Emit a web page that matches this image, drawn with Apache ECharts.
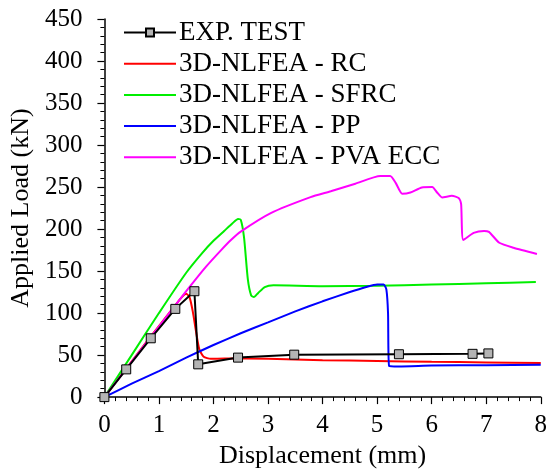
<!DOCTYPE html>
<html>
<head>
<meta charset="utf-8">
<script src="https://cdn.jsdelivr.net/npm/echarts@6/dist/echarts.min.js"></script>
<style>
  html, body { margin: 0; padding: 0; background: #fff; }
  #chart { width: 550px; height: 474px; }
</style>
</head>
<body>
<div id="chart"></div>
<script>
// displacement (mm), load (kN) pairs
const expTest = [[0, 0], [0.40, 33], [0.85, 70], [1.30, 105], [1.65, 126], [1.72, 39], [2.45, 47], [3.48, 50.5], [5.40, 51], [6.75, 51.5], [7.04, 52]];
const rc = [[0, 0], [0.4, 34], [0.8, 68], [1.2, 101], [1.42, 119], [1.5, 123], [1.56, 119], [1.62, 102], [1.68, 78], [1.74, 57], [1.82, 48], [1.95, 45.5], [2.2, 46], [3, 45.5], [4, 44], [5, 43], [6, 42], [7, 41.3], [8, 40.5]];
const sfrc = [[0, 0], [0.5, 50], [1.0, 100], [1.5, 148], [1.8, 172], [2.0, 186], [2.2, 198], [2.35, 207], [2.45, 212], [2.5, 211], [2.56, 190], [2.63, 140], [2.69, 121], [2.74, 119], [2.82, 124], [2.94, 131], [3.1, 133], [4, 132], [5, 132.5], [6, 134], [7, 135.5], [7.91, 137]];
const pp = [[0, 0], [0.5, 16], [1, 31], [1.5, 47], [2, 62], [2.5, 76], [3, 89], [3.5, 102], [4, 114], [4.5, 125], [4.8, 131], [5.0, 134], [5.12, 134], [5.17, 128], [5.2, 100], [5.22, 37], [5.4, 36.5], [6, 37.5], [7, 38], [8, 38.5]];
const pvaEcc = [[0, 0], [0.5, 42], [1.0, 84], [1.5, 126], [1.86, 155], [2.14, 175], [2.32, 187], [2.5, 197], [3.05, 219], [3.78, 238], [4.15, 245], [4.6, 254], [5.06, 263], [5.24, 263], [5.34, 255], [5.46, 242], [5.61, 243.5], [5.82, 249.5], [6.01, 250], [6.10, 243.5], [6.19, 237.6], [6.37, 239.6], [6.50, 236.8], [6.54, 229.8], [6.58, 187], [6.77, 195.4], [6.96, 197.8], [7.05, 196.6], [7.24, 183.7], [7.50, 177.8], [7.93, 170.4]];

const seriesNames = ['EXP. TEST', '3D-NLFEA - RC', '3D-NLFEA - SFRC', '3D-NLFEA - PP', '3D-NLFEA - PVA ECC'];
const seriesData = [expTest, rc, sfrc, pp, pvaEcc];
const seriesColors = ['#000000', '#ff0000', '#00ee00', '#0000ff', '#ff00ff'];

const font = '"Liberation Serif", "Times New Roman", "DejaVu Serif", serif';

const chart = echarts.init(document.getElementById('chart'));

const series = seriesNames.map((name, i) => ({
    name: name,
    type: 'line',
    data: seriesData[i],
    color: seriesColors[i],
    symbol: i === 0 ? 'rect' : 'none',
    symbolSize: 9,
    smooth: i === 0 ? false : 0.2,
    itemStyle: i === 0 ? { color: '#b4b4b4', borderColor: '#000', borderWidth: 1 } : { color: seriesColors[i] },
    lineStyle: { color: seriesColors[i], width: 2 },
    z: i === 0 ? 10 : 2,
    animation: false
}));

// only the test curve shows a marker in the legend
const legendData = seriesNames.map((name, i) => (
    i === 0 ? { name: name } : { name: name, itemStyle: { opacity: 0 } }
));

chart.setOption({
    backgroundColor: '#fff',
    animation: false,
    grid: { left: 103, right: 9, top: 19, bottom: 71.5 },
    legend: {
        orient: 'vertical',
        left: 123,
        top: 19,
        padding: 0,
        itemWidth: 52,
        itemHeight: 10,
        itemGap: 4.2,
        data: legendData,
        textStyle: { fontFamily: font, fontSize: 27, color: '#000', lineHeight: 27, padding: [0, 0, 0, -2] }
    },
    xAxis: {
        type: 'value',
        min: 0,
        max: 8,
        interval: 1,
        name: 'Displacement (mm)',
        nameLocation: 'middle',
        nameGap: 42,
        nameTextStyle: { fontFamily: font, fontSize: 26, color: '#000' },
        axisLine: { lineStyle: { color: '#000', width: 1.5 } },
        axisTick: { length: 7, lineStyle: { color: '#000', width: 1.2 } },
        minorTick: { show: true, splitNumber: 5, length: 4, lineStyle: { color: '#000', width: 1 } },
        axisLabel: { fontFamily: font, fontSize: 25, color: '#000', margin: 16 },
        splitLine: { show: false }
    },
    yAxis: {
        type: 'value',
        min: 0,
        max: 450,
        interval: 50,
        name: 'Applied Load (kN)',
        nameLocation: 'middle',
        nameGap: 70,
        nameTextStyle: { fontFamily: font, fontSize: 26, color: '#000' },
        axisLine: { show: true, lineStyle: { color: '#000', width: 1.5 } },
        axisTick: { show: true, length: 7, lineStyle: { color: '#000', width: 1.2 } },
        minorTick: { show: true, splitNumber: 5, length: 4, lineStyle: { color: '#000', width: 1 } },
        axisLabel: { fontFamily: font, fontSize: 25, color: '#000', margin: 22 },
        splitLine: { show: false }
    },
    series: series
});
</script>
</body>
</html>
